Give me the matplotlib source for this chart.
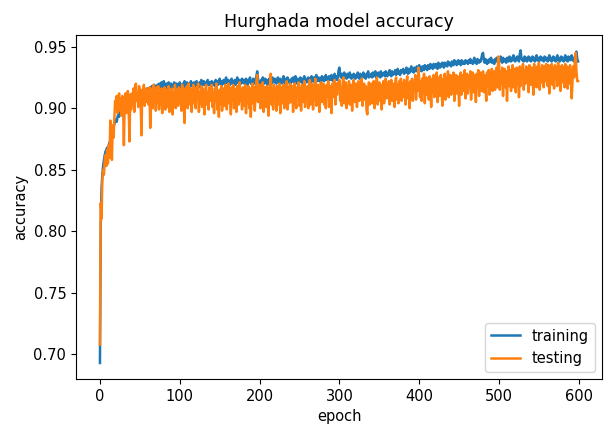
import numpy as np
import matplotlib
matplotlib.use("Agg")
import matplotlib.pyplot as plt

title = "Hurghada model accuracy"
x_label = "epoch"
y_label = "accuracy"
series_names = ["training", "testing"]

# accuracy values in thousandths, one per epoch
training_milli = [
693,805,835,846,853,858,862,865,866,868,867,870,872,874,877,879,882,885,887,889,
891,889,893,895,893,897,898,896,899,900,901,898,902,903,900,904,905,902,906,904,
907,905,908,906,909,907,910,908,911,909,912,910,911,913,910,914,912,915,913,916,
914,916,913,917,915,918,914,917,919,916,918,915,919,917,920,916,918,921,917,919,
922,918,917,920,916,919,921,917,918,920,916,919,917,921,918,916,920,917,919,918,
921,917,919,916,920,918,922,917,919,921,918,920,917,919,922,918,920,917,921,919,
918,922,919,920,917,921,919,923,918,920,922,919,921,918,920,923,919,921,920,918,
922,920,919,921,918,923,920,922,919,921,924,920,922,919,921,923,920,922,925,921,
920,923,921,919,922,924,920,922,921,923,919,922,925,921,920,923,922,920,924,921,
923,920,922,924,921,919,923,922,925,920,922,921,924,922,920,923,926,930,924,921,
922,920,923,921,925,922,920,924,921,923,919,922,924,921,923,920,925,922,921,924,
922,920,923,925,921,922,924,920,923,921,926,922,920,924,922,925,921,923,922,920,
924,922,925,921,923,926,922,920,924,923,921,925,922,924,920,923,926,922,924,921,
923,925,922,924,921,926,923,922,925,921,924,927,922,923,925,922,924,921,926,923,
925,922,924,927,923,925,922,926,924,923,927,924,922,925,928,924,926,923,925,931,
933,927,925,928,924,926,929,925,927,924,928,926,925,929,926,924,927,925,928,926,
924,927,925,929,926,924,928,925,927,926,929,925,927,924,928,926,930,925,927,926,
928,925,929,926,927,930,925,928,926,929,927,925,930,926,928,927,929,926,930,928,
926,929,927,931,928,926,930,927,929,928,931,927,929,932,928,930,927,931,929,930,
932,928,930,929,933,930,928,932,929,931,934,930,932,929,933,931,930,934,931,933,
935,931,933,930,934,932,931,935,932,934,931,935,933,932,936,933,935,932,936,934,
933,936,934,932,937,935,933,936,934,937,935,933,937,935,936,934,938,935,937,936,
934,938,936,935,939,936,938,935,937,939,936,938,935,939,937,936,938,936,939,937,
938,936,939,937,940,937,938,936,939,941,937,938,936,940,938,937,939,938,941,944,
945,939,937,940,938,936,939,937,940,938,941,937,939,938,936,940,938,941,939,937,
940,938,942,939,937,941,938,940,939,937,941,939,938,942,940,938,941,939,943,940,
938,941,939,942,940,938,944,947,941,939,940,938,942,939,941,938,940,942,939,941,
938,940,942,939,941,938,940,943,939,941,938,940,942,939,941,940,938,942,940,939,
941,938,940,943,939,941,938,940,942,939,941,938,940,943,939,941,938,940,942,939,
941,938,940,943,939,941,938,942,940,939,941,943,939,940,938,942,944,946,940,938,
]

testing_milli = [
708,823,810,842,850,846,858,862,853,866,855,870,860,890,872,858,886,876,892,906,
903,910,896,906,912,898,908,894,910,902,870,906,912,896,909,914,900,873,911,899,
912,903,916,897,917,920,906,913,901,918,914,904,878,915,906,919,902,913,916,905,
914,903,917,884,911,916,900,919,907,914,898,917,905,918,899,913,904,916,896,912,
903,917,899,911,915,901,918,897,912,904,916,895,913,906,919,900,915,906,902,917,
905,915,898,919,911,901,888,916,906,918,900,920,911,903,916,897,913,919,904,915,
900,917,911,920,897,913,904,918,901,916,907,895,914,919,903,913,899,917,906,915,
919,901,912,896,916,906,920,899,913,893,915,904,918,898,912,916,902,919,907,899,
915,920,904,913,895,917,906,919,900,916,909,897,918,912,903,921,906,915,899,917,
911,902,919,896,914,905,918,900,916,893,912,920,904,917,898,914,922,927,905,916,
919,900,914,905,921,897,917,908,901,918,912,894,915,920,928,903,914,899,919,908,
916,898,918,911,903,920,896,914,917,904,919,900,916,907,922,899,917,904,920,910,
905,918,897,915,920,907,900,917,910,921,902,916,898,919,913,905,922,901,917,909,
918,900,915,923,903,914,920,899,917,907,924,902,916,919,908,897,918,921,905,915,
920,903,917,900,919,910,922,901,915,918,896,920,909,917,923,903,919,911,921,916,
923,906,917,902,920,925,904,916,921,900,918,909,922,903,919,912,898,920,923,905,
916,920,901,918,922,906,919,910,924,902,917,920,907,918,898,895,914,921,903,917,
920,904,918,922,900,915,919,925,903,917,921,906,919,899,915,922,904,918,924,908,
919,909,922,903,918,923,906,920,913,901,921,925,907,919,904,922,912,924,906,920,
909,923,917,903,921,926,908,920,900,922,912,924,906,921,915,927,907,923,914,933,
924,909,922,906,924,914,928,904,921,925,911,923,907,926,917,901,924,913,927,909,
923,914,929,905,922,925,910,927,918,902,924,913,928,907,925,916,930,909,924,927,
911,925,916,929,906,924,927,912,926,918,902,925,929,911,924,927,914,931,908,925,
928,912,926,917,930,907,925,929,913,927,920,905,928,919,931,910,926,929,914,927,
930,913,927,918,906,929,919,931,911,928,921,932,914,927,930,915,929,933,917,942,
938,915,930,920,933,910,929,932,917,930,906,928,934,918,931,914,930,935,917,932,
929,913,933,920,931,909,934,918,932,925,936,915,931,920,934,921,932,913,935,922,
919,933,927,911,936,921,932,917,934,924,937,915,932,921,935,926,917,934,922,936,
932,918,935,912,933,922,936,919,932,916,935,925,933,918,937,921,934,914,932,935,
921,933,917,936,923,934,916,933,920,935,927,908,921,934,925,939,945,930,922,922,
]

x_ticks = [0, 100, 200, 300, 400, 500, 600]
y_ticks = [0.70, 0.75, 0.80, 0.85, 0.90, 0.95]

training = np.array(training_milli) / 1000.0
testing = np.array(testing_milli) / 1000.0

fig = plt.figure(figsize=(6.04, 4.32), dpi=100)
ax = fig.add_axes([76/604, 53/432, 526/604, 344/432])
ax.plot(np.arange(len(training)), training, color="#1f77b4", lw=1.8, label=series_names[0])
ax.plot(np.arange(len(testing)), testing, color="#ff7f0e", lw=1.8, label=series_names[1])
ax.set_title(title, fontsize=12.5)
ax.set_xlabel(x_label, fontsize=10.5)
ax.set_ylabel(y_label, fontsize=10.5)
ax.set_xticks(x_ticks)
ax.set_yticks(y_ticks)
ax.set_xlim(-30, 629)
ax.set_ylim(0.680, 0.9595)
ax.tick_params(labelsize=10.5)
ax.legend(loc="lower right", fontsize=10.5)
fig.savefig("out.png", dpi=100)
